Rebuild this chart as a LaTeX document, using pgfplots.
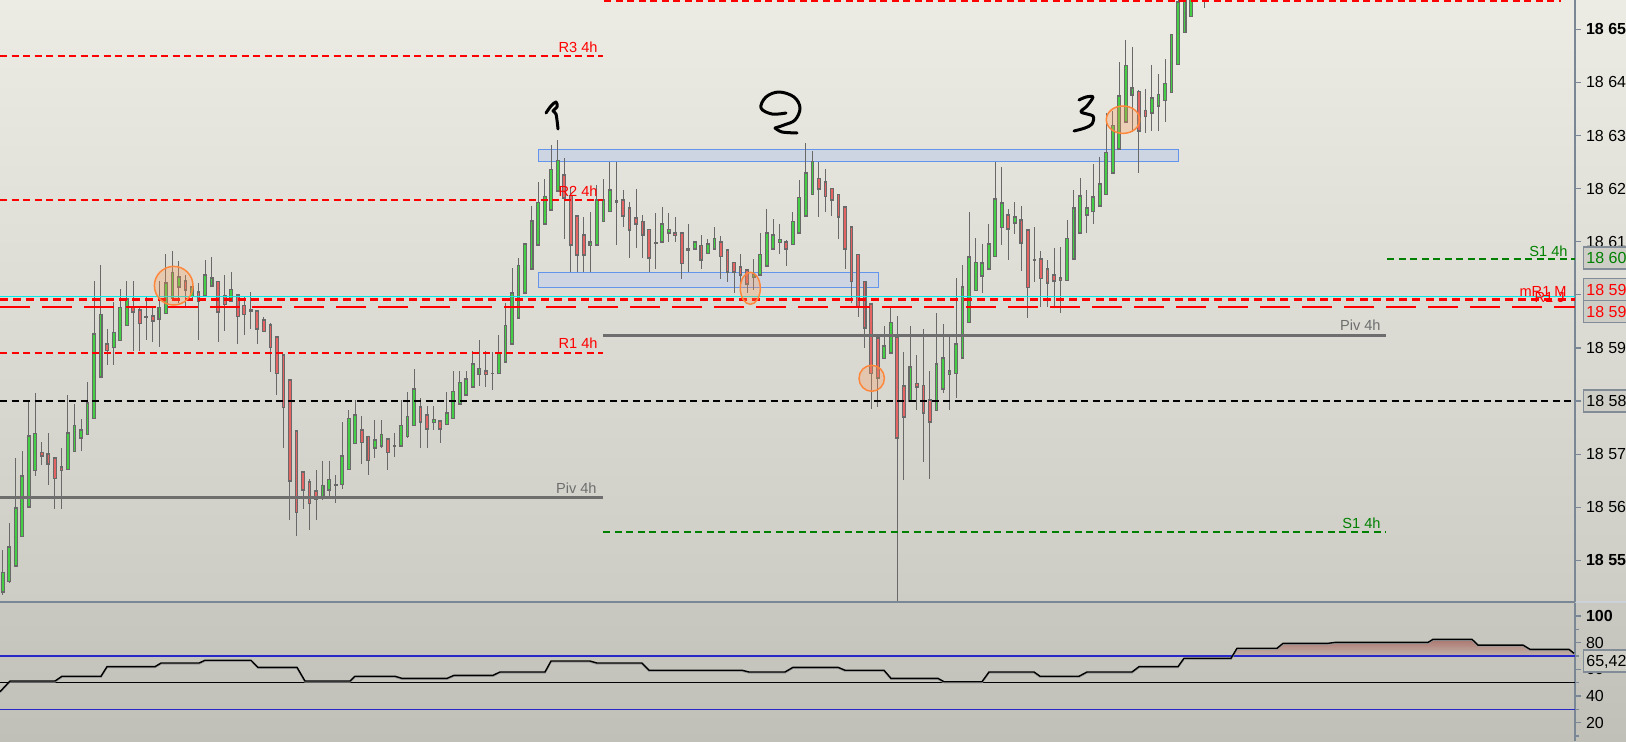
\documentclass[border=0pt]{standalone}
\usepackage{fontspec}
\setmainfont{Liberation Sans}
\usepackage{pgfplots}
\pgfplotsset{compat=1.18}
\usepackage{pgfplotstable}
\definecolor{bgtop}{RGB}{236,236,228}
\definecolor{bgmid}{RGB}{205,205,197}
\definecolor{bglowa}{RGB}{201,201,193}
\definecolor{bglowb}{RGB}{192,192,184}
\definecolor{axcol}{RGB}{122,136,150}
\definecolor{upc}{RGB}{70,205,70}
\definecolor{dnc}{RGB}{228,100,100}
\definecolor{wickc}{RGB}{105,105,105}
\definecolor{cyanl}{RGB}{0,235,235}
\definecolor{zonef}{RGB}{204,213,225}
\definecolor{zoned}{RGB}{100,149,237}
\definecolor{pivc}{RGB}{110,110,110}
\definecolor{sonec}{RGB}{0,128,0}
\definecolor{rsiblue}{RGB}{40,40,200}
\definecolor{rsifill}{RGB}{172,118,110}
\definecolor{boxf}{RGB}{206,206,198}
\definecolor{boxd}{RGB}{130,140,150}
\definecolor{circd}{RGB}{255,135,60}
\definecolor{circf}{RGB}{255,150,80}
\definecolor{sepr}{RGB}{205,210,216}
\newcommand{\labf}{\fontsize{7.3pt}{8pt}\selectfont}
\newcommand{\tlabf}{\fontsize{8pt}{9pt}\selectfont}
\pgfplotsset{
  candlebar/.style={only marks, mark=*, mark size=0pt, mark options={draw=none, fill=none}, forget plot,
    error bars/.cd, y dir=both, y explicit, error mark=none},
  rline/.style={red, line width=0.85pt, dash pattern=on 3.5pt off 2.25pt},
}

\begin{document}%
\pgfplotstableread{
i O H L C
0 18544.0 18552.0 18543.5 18547.7
1 18546.0 18557.0 18545.7 18552.5
2 18549.0 18569.2 18548.8 18559.8
3 18554.5 18570.6 18554.5 18565.9
4 18560.1 18580.1 18560.1 18573.4
5 18566.9 18581.6 18565.9 18573.9
6 18570.3 18572.2 18568.0 18569.7
7 18570.0 18573.9 18564.1 18568.2
8 18569.2 18569.5 18559.6 18565.4
9 18567.6 18571.1 18559.6 18566.9
10 18567.1 18581.1 18567.1 18573.9
11 18570.5 18579.5 18570.5 18575.4
12 18573.1 18576.6 18570.5 18574.5
13 18573.7 18583.5 18573.7 18579.6
14 18576.7 18602.6 18576.7 18592.6
15 18584.6 18605.6 18584.6 18596.3
16 18590.7 18593.6 18586.7 18589.5
17 18590.1 18598.6 18586.7 18592.9
18 18591.4 18601.1 18591.4 18597.6
19 18594.2 18602.6 18594.2 18599.2
20 18597.6 18602.6 18589.5 18596.8
21 18597.1 18597.5 18589.5 18594.6
22 18595.9 18599.7 18591.4 18595.9
23 18596.0 18597.5 18591.2 18595.1
24 18595.4 18602.6 18590.1 18597.6
25 18596.5 18607.7 18596.5 18602.2
26 18599.3 18608.3 18599.0 18604.2
27 18601.5 18606.3 18598.4 18603.3
28 18602.6 18603.7 18597.9 18600.9
29 18599.7 18602.2 18599.0 18601.5
30 18600.5 18602.2 18591.4 18598.8
31 18599.8 18606.6 18599.8 18603.7
32 18601.7 18607.2 18601.5 18603.1
33 18602.5 18602.5 18591.2 18596.8
34 18599.7 18603.7 18593.1 18598.2
35 18598.8 18604.3 18598.8 18601.0
36 18599.9 18599.9 18590.7 18595.9
37 18598.0 18599.5 18592.4 18596.3
38 18597.1 18600.6 18593.5 18597.0
39 18596.9 18596.9 18590.7 18593.5
40 18595.3 18595.9 18593.1 18593.1
41 18594.3 18594.6 18585.5 18590.1
42 18592.0 18592.0 18581.1 18585.2
43 18588.6 18588.6 18571.1 18578.8
44 18583.9 18583.9 18557.6 18564.9
45 18574.3 18574.3 18554.6 18559.0
46 18566.6 18566.6 18559.6 18563.2
47 18564.8 18565.3 18555.7 18560.7
48 18563.1 18567.1 18557.5 18561.5
49 18562.0 18568.7 18561.3 18564.1
50 18563.2 18568.7 18562.1 18565.2
51 18564.2 18566.0 18560.8 18564.1
52 18564.3 18576.0 18563.5 18569.7
53 18567.1 18578.4 18567.1 18576.7
54 18572.0 18580.2 18572.0 18577.3
55 18574.5 18577.1 18568.1 18572.2
56 18573.3 18573.3 18566.0 18568.8
57 18571.1 18576.5 18569.2 18572.6
58 18571.6 18576.5 18571.1 18573.7
59 18572.8 18572.8 18567.1 18570.3
60 18571.6 18573.9 18569.4 18571.6
61 18571.6 18580.2 18571.6 18575.4
62 18573.3 18581.7 18573.1 18577.1
63 18575.4 18586.1 18575.4 18582.2
64 18578.8 18580.5 18571.1 18576.0
65 18577.3 18579.0 18571.1 18574.8
66 18576.0 18579.0 18574.5 18576.5
67 18576.2 18576.5 18572.0 18574.8
68 18575.6 18581.7 18575.6 18577.8
69 18576.7 18585.6 18576.7 18581.8
70 18579.4 18585.6 18579.4 18583.5
71 18581.2 18585.6 18581.2 18584.1
72 18582.7 18589.5 18582.7 18586.9
73 18585.0 18591.4 18582.9 18586.1
74 18585.6 18589.5 18582.7 18585.0
75 18585.2 18589.2 18582.0 18585.2
76 18585.2 18592.5 18585.2 18589.0
77 18587.3 18598.4 18587.3 18594.2
78 18590.8 18605.0 18590.8 18600.4
79 18595.7 18607.0 18595.7 18605.5
80 18600.4 18609.7 18600.4 18609.5
81 18604.9 18616.7 18604.9 18613.9
82 18609.4 18621.2 18609.4 18617.4
83 18613.4 18621.9 18613.4 18618.5
84 18616.0 18628.2 18616.0 18623.6
85 18619.6 18629.1 18619.6 18625.3
86 18622.5 18625.7 18610.6 18618.3
87 18618.7 18620.3 18604.3 18609.4
88 18614.9 18614.9 18604.3 18607.5
89 18611.2 18614.7 18604.3 18607.5
90 18609.3 18615.6 18604.3 18609.9
91 18609.4 18620.6 18609.4 18617.8
92 18613.8 18621.8 18613.8 18617.8
93 18615.7 18625.1 18615.7 18619.7
94 18617.7 18625.1 18609.4 18617.4
95 18617.8 18619.7 18612.8 18614.9
96 18616.3 18617.5 18607.0 18612.2
97 18614.4 18620.0 18608.9 18613.3
98 18613.8 18615.0 18607.0 18611.2
99 18612.3 18612.3 18604.3 18607.0
100 18609.8 18615.5 18604.9 18609.8
101 18609.9 18616.6 18609.9 18613.3
102 18611.6 18615.5 18609.9 18612.3
103 18611.7 18614.7 18609.9 18611.2
104 18611.6 18611.6 18603.0 18605.9
105 18608.6 18613.3 18604.3 18608.5
106 18608.7 18610.0 18608.4 18609.9
107 18609.3 18611.2 18604.9 18606.5
108 18607.8 18610.6 18607.8 18609.5
109 18608.7 18612.7 18608.7 18610.6
110 18609.9 18611.0 18603.0 18607.2
111 18608.4 18608.4 18602.5 18604.3
112 18606.1 18606.1 18600.4 18604.3
113 18605.3 18607.6 18601.5 18603.8
114 18604.7 18604.7 18600.4 18602.1
115 18603.4 18606.7 18600.9 18603.8
116 18603.8 18611.6 18603.8 18607.6
117 18605.5 18616.2 18605.5 18611.6
118 18608.7 18614.2 18608.7 18611.2
119 18609.9 18613.4 18607.6 18610.4
120 18610.0 18610.4 18605.5 18608.7
121 18609.5 18615.5 18609.5 18613.8
122 18611.6 18621.7 18611.6 18618.3
123 18614.9 18628.5 18614.9 18622.9
124 18618.9 18627.1 18618.9 18625.1
125 18621.9 18625.1 18614.6 18620.0
126 18621.2 18623.6 18615.5 18618.5
127 18620.0 18620.0 18614.9 18617.8
128 18618.9 18618.9 18610.6 18614.6
129 18616.6 18616.6 18604.9 18608.7
130 18612.7 18612.7 18598.4 18602.5
131 18607.6 18607.6 18595.9 18597.6
132 18602.5 18602.5 18589.9 18593.7
133 18598.2 18598.2 18578.4 18585.2
134 18591.8 18591.8 18578.9 18584.4
135 18588.0 18594.2 18588.0 18590.3
136 18589.1 18597.6 18589.1 18594.8
137 18592.0 18596.0 18540.0 18573.1
138 18582.8 18589.3 18565.1 18577.0
139 18579.9 18594.2 18579.9 18586.4
140 18583.3 18588.7 18578.3 18582.7
141 18582.9 18593.5 18568.6 18577.7
142 18580.2 18585.6 18565.4 18576.1
143 18578.2 18596.5 18578.2 18586.9
144 18582.3 18594.6 18581.6 18588.1
145 18585.1 18592.1 18578.3 18585.6
146 18585.2 18603.1 18580.5 18590.7
147 18588.1 18605.6 18588.1 18601.5
148 18594.8 18615.6 18594.8 18607.1
149 18600.8 18610.7 18600.8 18606.1
150 18603.6 18609.5 18600.4 18606.0
151 18604.8 18613.4 18604.8 18609.5
152 18607.2 18625.1 18607.2 18618.0
153 18612.7 18624.0 18609.4 18617.3
154 18615.0 18616.1 18606.5 18612.4
155 18613.5 18617.5 18611.5 18614.6
156 18614.1 18616.8 18604.4 18609.8
157 18612.2 18612.2 18595.7 18601.4
158 18606.6 18612.7 18602.5 18606.5
159 18606.7 18608.2 18597.8 18603.1
160 18604.8 18606.6 18597.8 18602.2
161 18603.7 18608.8 18597.8 18602.6
162 18603.1 18609.0 18596.5 18602.7
163 18602.7 18614.1 18602.7 18610.6
164 18606.7 18619.8 18606.7 18616.3
165 18611.6 18622.0 18611.6 18618.6
166 18615.0 18619.8 18611.6 18616.3
167 18615.7 18624.6 18613.4 18618.4
168 18616.8 18625.9 18616.8 18620.8
169 18618.9 18634.2 18618.9 18626.8
170 18622.9 18634.7 18622.9 18631.9
171 18627.5 18643.9 18627.5 18637.5
172 18632.5 18647.9 18632.5 18643.2
173 18637.7 18646.6 18630.7 18638.9
174 18638.3 18638.6 18623.0 18630.8
175 18634.7 18638.7 18630.4 18633.6
176 18634.2 18643.2 18630.9 18637.0
177 18635.5 18641.6 18630.9 18637.7
178 18636.6 18644.5 18632.6 18639.8
179 18638.1 18649.2 18638.1 18649.0
180 18643.4 18656.0 18643.4 18655.1
181 18649.4 18657.0 18649.4 18656.5
182 18652.4 18658.0 18652.4 18657.5
183 18656.5 18661.0 18656.0 18659.5
184 18660.0 18662.0 18654.1 18658.0
}\candles%
\pgfplotstableread{
x v
0 43.2
10 51.2
55 51.2
62 54.8
101 54.8
107 62
155 62
161 64.7
199 64.7
205 66.8
251 66.8
258 61.5
297 61.5
305 51.2
350 51.2
355 54.8
395 54.8
402 53.2
447 53.2
454 55.5
493 55.5
500 58
545 58
551 66.2
590 66.2
597 64.7
642 64.7
649 59.3
742 59.3
749 58
785 58
793 61.5
838 61.5
845 59.3
884 59.3
891 53.2
938 53.2
944 50.7
982 50.7
989 58
1034 58
1040 54.8
1079 54.8
1087 58
1132 58
1139 62
1178 62
1184 68.3
1231 68.3
1237 75.8
1277 75.8
1283 79.5
1328 79.5
1335 80.2
1428 80.2
1433 82.5
1472 82.5
1478 78.2
1523 78.2
1530 75
1569 75
1574 72
}\osc%
\begin{tikzpicture}
% backgrounds
\shade[top color=bgtop, bottom color=bgmid] (0pt,69.5pt) rectangle (813pt,370.5pt);
\shade[top color=bglowa, bottom color=bglowb] (0pt,0pt) rectangle (813pt,69.5pt);

\begin{axis}[
  at={(0pt,69.5pt)}, anchor=south west, scale only axis,
  width=787.5pt, height=301pt,
  xmin=0, xmax=1575, ymin=18542.15, ymax=18655.52,
  axis x line=none, axis y line*=right,
  axis line style={draw=axcol, line width=1pt},
  ytick={18550,18560,...,18650},
  yticklabels={\textbf{18 550},18 560,18 570,18 580,18 590,18 600,18 610,18 620,18 630,18 640,\textbf{18 650}},
  tick align=outside, major tick length=3pt,
  tick style={draw=axcol, line width=0.6pt},
  yticklabel style={anchor=west, inner sep=0pt, xshift=2.3pt, font=\tlabf, text=black},
  clip=true,
]
\addplot[fill=zonef, draw=zoned, line width=0.6pt, forget plot] coordinates {(538.3,18625.07) (1178.3,18625.07) (1178.3,18627.4) (538.3,18627.4) (538.3,18625.07)};
\addplot[fill=zonef, draw=zoned, line width=0.6pt, forget plot] coordinates {(538.3,18601.4) (878.3,18601.4) (878.3,18604.24) (538.3,18604.24) (538.3,18601.4)};
\addplot[candlebar, error bar style={draw=wickc, line width=0.5pt}]
  table[x expr=2.67+6.53*\thisrow{i}, y expr={0.5*(\thisrow{H}+\thisrow{L})}, y error expr={0.5*(\thisrow{H}-\thisrow{L})}]{\candles};
\addplot[candlebar, error bar style={draw=wickc, line width=1.9pt}]
  table[x expr=2.67+6.53*\thisrow{i}, y expr={0.5*(\thisrow{O}+\thisrow{C})}, y error expr={0.5*abs(\thisrow{C}-\thisrow{O})+0.17}]{\candles};
\addplot[candlebar, error bar style={draw=upc, line width=0.85pt}]
  table[x expr=2.67+6.53*\thisrow{i}, y expr={(\thisrow{C}>=\thisrow{O}) ? 0.5*(\thisrow{O}+\thisrow{C}) : 18500}, y error expr={max(0.5*abs(\thisrow{C}-\thisrow{O})-0.16,0)}]{\candles};
\addplot[candlebar, error bar style={draw=dnc, line width=0.85pt}]
  table[x expr=2.67+6.53*\thisrow{i}, y expr={(\thisrow{C}<\thisrow{O}) ? 0.5*(\thisrow{O}+\thisrow{C}) : 18500}, y error expr={max(0.5*abs(\thisrow{C}-\thisrow{O})-0.16,0)}]{\candles};
\addplot[rline] coordinates {(0,18645.0) (603,18645.0)};
\addplot[rline] coordinates {(604,18655.37) (1561,18655.37)};
\addplot[rline] coordinates {(0,18617.86) (603,18617.86)};
\addplot[rline] coordinates {(0,18589.0) (603,18589.0)};
\addplot[pivc, line width=1.5pt] coordinates {(0,18561.86) (603,18561.86)};
\addplot[pivc, line width=1.5pt] coordinates {(603,18592.4) (1386,18592.4)};
\addplot[sonec, line width=0.85pt, dash pattern=on 3.5pt off 2.25pt] coordinates {(603,18555.3) (1386,18555.3)};
\addplot[sonec, line width=0.85pt, dash pattern=on 3.5pt off 2.25pt] coordinates {(1387,18606.7) (1575,18606.7)};
\addplot[black, line width=0.85pt, dash pattern=on 3.5pt off 2.25pt] coordinates {(0,18580) (1575,18580)};
\addplot[red, line width=1pt, dash pattern=on 15pt off 6pt] coordinates {(0,18597.76) (1575,18597.76)};
\addplot[red, line width=1.5pt, dash pattern=on 4pt off 2.6pt] coordinates {(0,18599.16) (1575,18599.16)};
\addplot[cyanl, line width=0.85pt] coordinates {(0,18599.7) (1575,18599.7)};
\end{axis}

\begin{axis}[
  at={(0pt,0pt)}, anchor=south west, scale only axis,
  width=787.5pt, height=69pt,
  xmin=0, xmax=1575, ymin=6.2, ymax=109.75,
  axis x line=none, axis y line*=right,
  axis line style={draw=axcol, line width=1pt},
  ytick={0,20,40,60,80,100},
  yticklabels={\textbf{0},20,40,60,80,\textbf{100}},
  minor ytick={10,30,50,70,90},
  tick align=outside, major tick length=3pt, minor tick length=2pt,
  tick style={draw=axcol, line width=0.6pt},
  yticklabel style={anchor=west, inner sep=0pt, xshift=2.3pt, font=\tlabf, text=black},
  clip=true,
]
\addplot[draw=none, top color=rsifill, bottom color=rsifill!25!bglowa, forget plot] coordinates {(1232.4,70) (1237,75.8) (1277,75.8) (1283,79.5) (1328,79.5) (1335,80.2) (1428,80.2) (1433,82.5) (1472,82.5) (1478,78.2) (1523,78.2) (1530,75) (1569,75) (1574,72) (1574,70) (1232.4,70)};
\addplot[rsiblue, line width=0.55pt] coordinates {(0,70) (1575,70)};
\addplot[rsiblue, line width=0.55pt] coordinates {(0,30) (1575,30)};
\addplot[black, line width=0.55pt] coordinates {(0,50) (1575,50)};
\addplot[gray!80, line width=0.8pt] table[x=x, y expr={\thisrow{v}-0.6}]{\osc};
\addplot[black, line width=0.7pt] table[x=x, y=v]{\osc};
\end{axis}

\begin{scope}[x=0.5pt, y=-0.5pt, shift={(0pt,370.5pt)}]
\draw[axcol, line width=1pt] (0,602) -- (1575,602);
\draw[sepr, line width=1pt] (1576,602) -- (1626,602);
\node[anchor=base east, text=red, font=\labf, inner sep=0pt] at (598,52) {R3 4h};
\node[anchor=base east, text=red, font=\labf, inner sep=0pt] at (598,196.5) {R2 4h};
\node[anchor=base east, text=red, font=\labf, inner sep=0pt] at (598,348.5) {R1 4h};
\node[anchor=base east, text=pivc, font=\labf, inner sep=0pt] at (597,493) {Piv 4h};
\node[anchor=base east, text=pivc, font=\labf, inner sep=0pt] at (1381,330) {Piv 4h};
\node[anchor=base east, text=sonec, font=\labf, inner sep=0pt] at (1381,528) {S1 4h};
\node[anchor=base east, text=sonec, font=\labf, inner sep=0pt] at (1568,256.5) {S1 4h};
\node[anchor=base east, text=red, font=\labf, inner sep=0pt] at (1565,302) {R1 J};
\node[anchor=base east, text=red, font=\labf, inner sep=0pt] at (1567,296) {mR1 M};
\tikzset{pbox/.style={anchor=west, draw=boxd, fill=boxf, line width=0.6pt, font=\tlabf, inner xsep=1.4pt, inner ysep=0pt, minimum height=11pt, text height=5.8pt, text depth=0pt}}
\node[pbox, text=sonec] at (1583,258) {18 606\,};
\node[pbox, text=red] at (1583,289.5) {18 599\,};
\node[pbox, text=red] at (1583,311.5) {18 598\,};
\node[pbox, text=black] at (1583,401) {18 580\,};
\node[pbox, text=black] at (1583,661) {65,425};
\tikzset{circ/.style={draw=circd, fill=circf, fill opacity=0.28, line width=0.75pt}}
\draw[circ] (173.7,285.7) ellipse [x radius=19.3, y radius=19.3];
\draw[circ] (750.3,288.3) ellipse [x radius=10, y radius=16];
\draw[circ] (871.7,378.3) ellipse [x radius=12.7, y radius=13];
\draw[circ] (1123,119.7) ellipse [x radius=16.7, y radius=13.7];
\tikzset{hand/.style={black, line width=1.5pt, line cap=round, line join=round}}
\draw[hand] plot[smooth, tension=0.6] coordinates {(546,113) (551,106) (556,102) (557,107) (553,111) (556,114) (558,129)};
\draw[hand] plot[smooth, tension=0.6] coordinates {(786,113) (772,114) (761,108) (766,97) (779,92) (794,97) (800,108) (795,120) (784,125) (775,128)};
\draw[hand] plot[smooth, tension=0.5] coordinates {(775,128) (782,132) (797,133)};
\draw[hand] plot[smooth, tension=0.5] coordinates {(1079,100) (1086,97) (1093,97) (1087,106) (1081,112) (1093,116) (1092,124) (1085,128) (1074,131)};
\end{scope}
\pgfresetboundingbox
\useasboundingbox (0pt,0pt) rectangle (813pt,370.5pt);
\end{tikzpicture}%
\end{document}
